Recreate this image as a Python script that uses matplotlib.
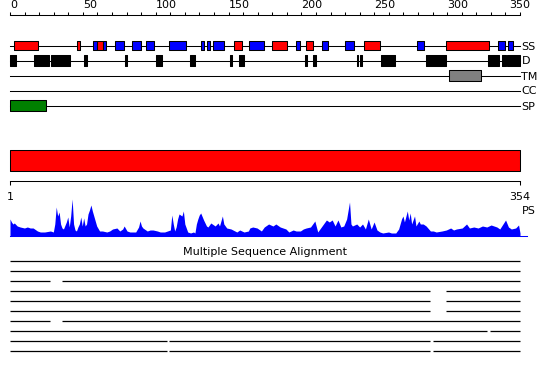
import matplotlib
matplotlib.use("Agg")
from matplotlib import pyplot as plt

# secondary structure (start, end) in residues
ss_helix = [(3, 19), (46, 48), (60, 63.5), (154, 159), (180, 190), (203, 208),
            (243, 254), (299, 329)]
ss_strand = [(57, 59.5), (64, 66), (72, 78), (84, 90), (93, 99), (109, 121),
             (131, 133), (135, 137), (139, 147), (164, 174), (196, 199),
             (214, 218), (230, 236), (279, 284), (335, 340), (342, 345)]
# disorder
disorder = [(0, 4), (16.5, 26.5), (28, 41), (51, 53), (79, 80), (100, 104),
            (123.5, 127), (151, 152.4), (157, 160.4), (202.4, 203.8),
            (207.7, 210), (237.9, 239), (240.2, 241.6), (254.6, 264.2),
            (285.7, 299), (328, 335.6), (337.6, 340.2), (341.3, 350)]
transmem = [(301.5, 323.4)]
coiled = []
signal = [(0, 25)]

seq_len = 354
track_names = ['SS', 'D', 'TM', 'CC', 'SP']
ruler_ticks = list(range(0, 351, 50))

# PS profile (residue, score)
ps_pos = [1, 2, 3, 4, 6, 8, 11, 13, 15, 17, 20, 22, 25, 29, 31, 32, 33, 34, 35, 36,
          37, 38, 40, 41, 42, 43, 44, 45, 46, 47, 48, 49, 50, 51, 52, 53, 54, 55, 56, 57,
          58, 59, 60, 61, 63, 65, 68, 70, 72, 75, 77, 79, 80, 82, 84, 88, 90, 91, 92, 93,
          96, 98, 100, 103, 105, 108, 110, 112, 113, 114, 115, 116, 117, 118, 120, 121, 122, 124, 126, 128,
          129, 130, 131, 132, 133, 135, 137, 138, 140, 141, 143, 145, 146, 148, 149, 151, 154, 158, 160, 163,
          166, 167, 169, 172, 175, 177, 180, 183, 185, 188, 190, 192, 194, 197, 199, 202, 204, 206, 209, 212,
          214, 218, 220, 222, 224, 226, 228, 230, 232, 234, 236, 237, 238, 241, 243, 245, 247, 249, 251, 253,
          255, 257, 259, 263, 265, 268, 270, 272, 273, 274, 276, 277, 278, 279, 281, 282, 284, 285, 287, 289,
          292, 294, 296, 300, 303, 306, 308, 310, 314, 317, 319, 322, 325, 328, 331, 334, 338, 340, 344, 346,
          348, 351, 353, 354]
ps_val = [17, 14, 12, 13, 10, 9, 8, 9, 8, 8, 5, 4, 4, 5, 4, 12, 29, 20, 24, 12,
          8, 7, 14, 19, 9, 20, 37, 12, 6, 5, 9, 12, 19, 10, 18, 10, 12, 22, 26, 31,
          25, 20, 15, 10, 5, 5, 4, 5, 7, 8, 5, 7, 10, 5, 4, 4, 9, 15, 10, 8,
          5, 6, 6, 5, 4, 4, 5, 6, 21, 12, 5, 9, 17, 22, 20, 25, 12, 4, 3, 4,
          3, 12, 17, 21, 23, 16, 10, 9, 13, 12, 10, 13, 10, 20, 12, 8, 7, 4, 6, 4,
          5, 8, 9, 8, 5, 9, 12, 10, 12, 9, 8, 7, 4, 6, 5, 5, 7, 8, 9, 15,
          4, 12, 16, 14, 16, 10, 16, 9, 10, 17, 34, 12, 10, 12, 9, 12, 7, 17, 7, 14,
          6, 4, 3, 4, 3, 3, 7, 17, 20, 14, 25, 16, 23, 12, 20, 10, 15, 12, 12, 10,
          5, 5, 4, 5, 6, 8, 6, 7, 8, 12, 8, 9, 8, 10, 9, 11, 9, 7, 16, 9,
          7, 8, 11, 3]

# alignment rows: aligned segments (start, end)
msa_rows = [
    [(1, 354)],
    [(1, 354)],
    [(1, 29), (37, 354)],
    [(1, 292), (303, 354)],
    [(1, 292), (303, 354)],
    [(1, 292), (303, 354)],
    [(1, 29), (37, 354)],
    [(1, 331), (333, 354)],
    [(1, 110), (111, 292), (294, 354)],
    [(1, 110), (111, 292), (294, 354)],
]

W, H = 550, 380
left, right = 10, 520

fig = plt.figure(figsize=(W / 100, H / 100), dpi=100)


def px_axes(lo, hi, label):
    # full-figure axes, y in pixels from top, x mapped so lo->left, hi->right
    ax = fig.add_axes([0, 0, 1, 1], label=label)
    k = (hi - lo) / (right - left)
    ax.set_xlim(lo - left * k, lo + (W - left) * k)
    ax.set_ylim(H, 0)
    ax.axis('off')
    return ax


ax = px_axes(0, 350, 'tracks')
lw = 0.75

# feature tracks
track_y = [45.5, 60.5, 75.5, 90.5, 105.5]
for y, name in zip(track_y, track_names):
    ax.plot([0, 350], [y, y], color='black', lw=lw, zorder=1)
    ax.text(350 + 1, y + 4, name, fontsize=8, ha='left', va='baseline')


def bars(ranges, y, h, fc):
    if ranges:
        ax.broken_barh([(s, e - s) for s, e in ranges], (y - h / 2, h),
                       facecolors=fc, edgecolors='black', lw=lw, zorder=2)


bars(ss_helix, track_y[0], 9.5, 'red')
bars(ss_strand, track_y[0], 9.5, 'blue')
bars(disorder, track_y[1], 10.5, 'black')
bars(transmem, track_y[2], 10.5, 'gray')
bars(coiled, track_y[3], 10.5, 'orange')
bars(signal, track_y[4], 10.5, 'green')

# lower part in sequence coordinates 1..354
ax2 = px_axes(1, seq_len, 'sequence')
ax2.broken_barh([(1, seq_len - 1)], (150, 20.5), facecolors='red',
                edgecolors='black', lw=lw)
ax2.plot([1, seq_len], [180.5, 180.5], color='black', lw=lw)
ax2.vlines([1, seq_len], 180.5, 185, color='black', lw=lw)
ax2.text(1, 200, '1', fontsize=8, ha='center', va='baseline')
ax2.text(seq_len, 200, str(seq_len), fontsize=8, ha='center', va='baseline')
ax2.text(seq_len + 1, 214, 'PS', fontsize=8, ha='left', va='baseline')

ax2.text((1 + seq_len) / 2, 255, 'Multiple Sequence Alignment', fontsize=8,
         ha='center', va='baseline')
for i, row in enumerate(msa_rows):
    y = 260.5 + 10 * i
    for s, e in row:
        ax2.plot([s, e], [y, y], color='black', lw=lw * 1.2, solid_capstyle='butt')

# PS profile
axp = fig.add_axes([left / W, 1 - 236 / H, (right - left) / W, 40 / H])
axp.set_xlim(1, seq_len)
axp.set_ylim(0, 40)
axp.axis('off')
axp.fill_between(ps_pos, ps_val, color='blue', lw=0)
axp.plot([1, seq_len + 5], [0.3, 0.3], color='blue', lw=lw, clip_on=False)

# top ruler as a real axis
axr = fig.add_axes([left / W, 1 - 16 / H, (right - left) / W, 1 / H], label='ruler')
axr.set_xlim(0, 350)
axr.set_yticks([])
axr.patch.set_visible(False)
for side in ['bottom', 'left', 'right']:
    axr.spines[side].set_visible(False)
axr.spines['top'].set_linewidth(lw)
axr.xaxis.tick_top()
axr.set_xticks(ruler_ticks)
axr.set_xticks(range(0, 351, 10), minor=True)
axr.tick_params(axis='x', which='both', direction='out', length=2.2, width=lw,
                pad=1.2, labelsize=8)
labels = axr.get_xticklabels()
for lab in labels[:-1]:
    lab.set_horizontalalignment('left')
labels[-1].set_horizontalalignment('center')

plt.savefig('out.png', dpi=100)
